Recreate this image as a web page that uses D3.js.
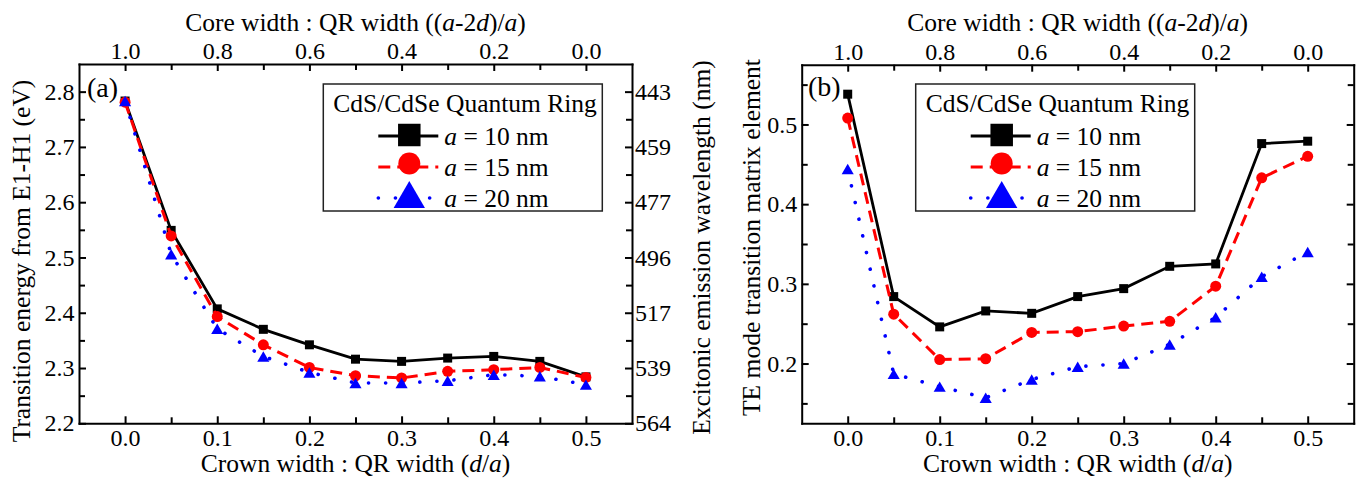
<!DOCTYPE html>
<html><head><meta charset="utf-8">
<script src="https://cdn.jsdelivr.net/npm/d3@7"></script>
<style>
body{margin:0;background:#fff;}
svg{display:block;font-family:"Liberation Serif","Times New Roman",serif;}
</style></head><body>
<svg id="chart" width="1363" height="479"></svg>
<script>
// ---------- data ----------
const crownRatio = [0, 0.05, 0.1, 0.15, 0.2, 0.25, 0.3, 0.35, 0.4, 0.45, 0.5];
const energyA10 = [2.783, 2.549, 2.407, 2.370, 2.342, 2.316, 2.312, 2.318, 2.321, 2.312, 2.284];
const energyA15 = [2.781, 2.539, 2.393, 2.342, 2.301, 2.286, 2.282, 2.294, 2.297, 2.301, 2.283];
const energyA20 = [2.783, 2.506, 2.371, 2.321, 2.292, 2.273, 2.273, 2.277, 2.288, 2.285, 2.270];
const teA10 = [0.538, 0.284, 0.246, 0.266, 0.263, 0.284, 0.294, 0.322, 0.325, 0.476, 0.479];
const teA15 = [0.508, 0.262, 0.205, 0.206, 0.239, 0.240, 0.247, 0.253, 0.297, 0.433, 0.460];
const teA20 = [0.444, 0.187, 0.171, 0.157, 0.180, 0.196, 0.200, 0.224, 0.258, 0.309, 0.340];

const seriesNames = ["10 nm", "15 nm", "20 nm"];
const legendTitle = "CdS/CdSe Quantum Ring";

const crownTicks = [0, 0.1, 0.2, 0.3, 0.4, 0.5];
const crownMinor = [0.05, 0.15, 0.25, 0.35, 0.45];
const coreTicks = [1.0, 0.8, 0.6, 0.4, 0.2, 0.0];
const coreMinor = [0.9, 0.7, 0.5, 0.3, 0.1];
const energyTicks = [2.2, 2.3, 2.4, 2.5, 2.6, 2.7, 2.8];
const energyMinor = [2.25, 2.35, 2.45, 2.55, 2.65, 2.75];
const wavelengthLabels = ["564", "539", "517", "496", "477", "459", "443"];
const teTicks = [0.2, 0.3, 0.4, 0.5];
const teMinor = [0.15, 0.25, 0.35, 0.45, 0.55];

// ---------- styles ----------
const seriesStyle = [
  {color: "#000000", dash: null, width: 2.8, cap: "butt", shape: "square"},
  {color: "#ff0000", dash: "12,7", width: 3, cap: "butt", shape: "circle"},
  {color: "#0000ff", dash: "0.1,17", width: 3.6, cap: "round", shape: "triangle"}
];
const FONT = '"Liberation Serif","Times New Roman",serif';
const FS_TICK = 24, FS_LAB = 25.5;

const svg = d3.select("#chart");

function markerPath(shape, s) {
  if (shape === "square") { const h = s / 2; return `M${-h},${-h}H${h}V${h}H${-h}Z`; }
  if (shape === "circle") { const r = s / 2; return `M${r},0A${r},${r} 0 1,1 ${-r},0A${r},${r} 0 1,1 ${r},0Z`; }
  const w = s * 1.1 / 2, hh = s * 0.95 / 2;
  return `M0,${-hh}L${w},${hh}L${-w},${hh}Z`;
}
const plotMarkerSize = {square: 9, circle: 11, triangle: 11};
const legendMarkerSize = {square: 22.5, circle: 22, triangle: 28.5};

function drawAxis(orient, scale, pos, major, minor, fmt, pad) {
  const mk = {bottom: d3.axisBottom, top: d3.axisTop, left: d3.axisLeft, right: d3.axisRight}[orient];
  const tr = (orient === "bottom" || orient === "top") ? `translate(0,${pos})` : `translate(${pos},0)`;
  const gMin = svg.append("g").attr("transform", tr)
    .call(mk(scale).tickValues(minor).tickSizeInner(-6).tickSizeOuter(0).tickFormat(""));
  gMin.select(".domain").remove();
  gMin.selectAll("line").attr("stroke", "#000").attr("stroke-width", 2);
  const g = svg.append("g").attr("transform", tr)
    .call(mk(scale).tickValues(major).tickSizeInner(-7).tickSizeOuter(0).tickPadding(pad).tickFormat(fmt));
  g.attr("font-family", FONT).attr("font-size", FS_TICK);
  g.selectAll("line").attr("stroke", "#000").attr("stroke-width", 2);
  g.select(".domain").attr("stroke", "#000").attr("stroke-width", 2).attr("stroke-linecap", "square");
  g.selectAll("text").attr("fill", "#000");
  return g;
}

function richText(parent, parts, x, y, opts) {
  const t = parent.append("text").attr("x", x).attr("y", y)
    .attr("font-family", FONT).attr("font-size", opts.size || FS_LAB).attr("fill", "#000")
    .attr("text-anchor", opts.anchor || "middle");
  if (opts.rotate) t.attr("transform", `rotate(${opts.rotate},${x},${y})`);
  parts.forEach(p => {
    const s = t.append("tspan").text(p.t);
    if (p.i) s.attr("font-style", "italic");
  });
  return t;
}

function panel(cfg) {
  const x = d3.scaleLinear().domain([-0.05, 0.55]).range([cfg.left, cfg.right]);
  const core = d3.scaleLinear().domain([1.1, -0.1]).range([cfg.left, cfg.right]);
  const y = d3.scaleLinear().domain(cfg.yDomain).range([cfg.bottom, cfg.top]);
  const f1 = d3.format(".1f");

  drawAxis("bottom", x, cfg.bottom, crownTicks, crownMinor, f1, 5.5);
  drawAxis("top", core, cfg.top, coreTicks, coreMinor, f1, 5);
  drawAxis("left", y, cfg.left, cfg.yTicks, cfg.yMinor, f1, 4.5);
  if (cfg.rightLabels) {
    drawAxis("right", y, cfg.right, cfg.yTicks, cfg.yMinor, (d, i) => cfg.rightLabels[i], 3);
  } else {
    drawAxis("right", y, cfg.right, cfg.yTicks, cfg.yMinor, () => "", 3);
  }

  // series
  const line = d3.line().x(d => x(d[0])).y(d => y(d[1]));
  cfg.series.forEach((vals, si) => {
    const st = seriesStyle[si];
    const pts = crownRatio.map((c, i) => [c, vals[i]]);
    svg.append("path").datum(pts).attr("d", line)
      .attr("fill", "none").attr("stroke", st.color).attr("stroke-width", st.width)
      .attr("stroke-dasharray", st.dash).attr("stroke-linecap", st.cap).attr("stroke-linejoin", "miter");
    svg.append("g").selectAll("path").data(pts).join("path")
      .attr("transform", d => `translate(${x(d[0])},${y(d[1])})`)
      .attr("d", markerPath(st.shape, plotMarkerSize[st.shape]))
      .attr("fill", st.color);
  });

  // panel tag
  svg.append("text").attr("x", cfg.tagX).attr("y", cfg.tagY).attr("font-family", FONT)
    .attr("font-size", 28).attr("fill", "#000").text(cfg.tag);

  // titles
  const cx = (cfg.left + cfg.right) / 2;
  richText(svg, [{t: "Core width : QR width (("}, {t: "a", i: 1}, {t: "-2"}, {t: "d", i: 1}, {t: ")/"}, {t: "a", i: 1}, {t: ")"}], cx, 30.5, {});
  richText(svg, [{t: "Crown width : QR width ("}, {t: "d", i: 1}, {t: "/"}, {t: "a", i: 1}, {t: ")"}], cx, 472, {});
  richText(svg, [{t: cfg.yTitle}], cfg.yTitleX, cfg.yTitleY, {rotate: -90});
  if (cfg.y2Title) richText(svg, [{t: cfg.y2Title}], cfg.y2TitleX, cfg.y2TitleY, {rotate: -90});

  // legend
  const L = cfg.legendLeft, T = 84, W = 279, H = 127;
  const lg = svg.append("g");
  lg.append("rect").attr("x", L).attr("y", T).attr("width", W).attr("height", H)
    .attr("fill", "#fff").attr("stroke", "#222").attr("stroke-width", 1.5);
  lg.append("text").attr("x", L + W / 2 + 2.3).attr("y", 111.7).attr("text-anchor", "middle")
    .attr("font-family", FONT).attr("font-size", FS_LAB).attr("fill", "#000").text(legendTitle);
  const rowBase = [145, 176, 207];
  const markerDy = {square: -10, circle: -12.5, triangle: -12.5};
  seriesNames.forEach((nm, i) => {
    const st = seriesStyle[i];
    const ly = rowBase[i] - 9;
    lg.append("line").attr("x1", L + 55).attr("x2", L + 115).attr("y1", ly).attr("y2", ly)
      .attr("stroke", st.color).attr("stroke-width", st.width)
      .attr("stroke-dasharray", st.dash).attr("stroke-linecap", st.cap);
    lg.append("path").attr("transform", `translate(${L + 86},${rowBase[i] + markerDy[st.shape]})`)
      .attr("d", markerPath(st.shape, legendMarkerSize[st.shape])).attr("fill", st.color);
    richText(lg, [{t: "a", i: 1}, {t: " = " + nm}], L + 121, rowBase[i], {anchor: "start"});
  });
}

panel({
  left: 79, right: 632, top: 64, bottom: 423.3,
  yDomain: [2.2, 2.85], yTicks: energyTicks, yMinor: energyMinor,
  rightLabels: wavelengthLabels,
  series: [energyA10, energyA15, energyA20],
  tag: "(a)", tagX: 87, tagY: 97,
  yTitle: "Transition energy from E1-H1 (eV)", yTitleX: 30, yTitleY: 261,
  y2Title: "Excitonic emission wavelength (nm)", y2TitleX: 710, y2TitleY: 247.5,
  legendLeft: 323.3
});
panel({
  left: 801.7, right: 1353.7, top: 64.7, bottom: 423.3,
  yDomain: [0.125, 0.575], yTicks: teTicks, yMinor: teMinor,
  rightLabels: null,
  series: [teA10, teA15, teA20],
  tag: "(b)", tagX: 808, tagY: 96,
  yTitle: "TE mode transition matrix element", yTitleX: 760, yTitleY: 237.5,
  legendLeft: 915.7
});
</script>
</body></html>
